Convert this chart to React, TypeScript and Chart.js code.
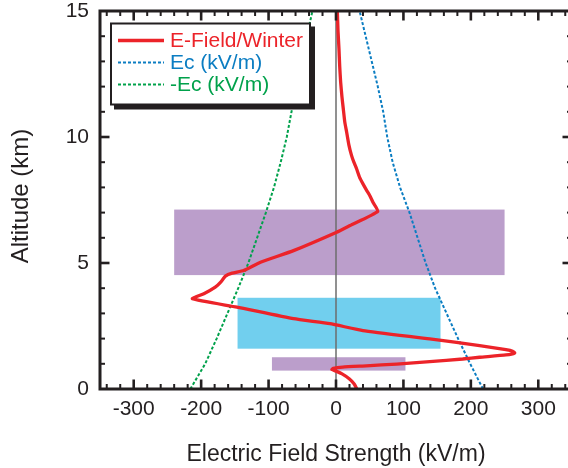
import React, { useEffect, useRef } from 'react';
import { Chart, registerables } from 'chart.js';

Chart.register(...registerables);

// ---- data ----
const efieldAltitude = [0, 0.2, 0.4, 0.6, 0.7, 0.77, 0.82, 0.87, 0.92, 0.99, 1.09, 1.19, 1.26, 1.35, 1.43, 1.5, 1.56, 1.72, 1.99, 2.32, 2.59, 2.79, 3.25, 3.58, 3.78, 4.04, 4.24, 4.48, 4.6, 4.7, 5.03, 5.49, 6.22, 6.49, 7.05, 7.4, 7.68, 7.9, 8.14, 8.4, 8.74, 9.0, 9.27, 9.7, 10.19, 10.6, 11.12, 11.6, 12.18, 12.8, 13.5, 14.2, 15];
const efieldValues = [31, 27, 20, 9, 1, -6, -4, 10, 45, 90, 139, 188, 213, 252, 265, 262, 252, 213, 139, 40, -9, -63, -147, -213, -196, -179, -171, -164, -154, -137, -112, -63, 1, 21, 62, 55, 50, 45, 40, 35, 30.5, 26.5, 23, 19, 15.8, 13, 10.8, 8.8, 6.9, 5.5, 4.4, 3, 2];

const ecAltitude = [0, 1, 2, 3, 4, 5, 6, 7, 8, 9, 10, 11, 12, 13, 14, 15];
const ecValues = [218, 199, 181, 164, 147, 133, 121, 109, 95, 84, 76, 70, 62, 53, 44, 35];
const negEcValues = [-216, -194, -177, -161, -145, -130, -117, -104, -92, -82, -73, -66, -58, -50, -43, -35];

const zeroLineAltitude = [0, 15];
const zeroLineValues = [0, 0];

const bandXMin = [-240, -146, -95];
const bandXMax = [250, 155, 103];
const bandAltMin = [4.52, 1.6, 0.73];
const bandAltMax = [7.12, 3.62, 1.26];

const xTickValues = [-300, -200, -100, 0, 100, 200, 300];
const yTickValues = [0, 5, 10, 15];
const seriesLabels = ['E-Field/Winter', 'Ec (kV/m)', '-Ec (kV/m)'];
const xTitle = 'Electric Field Strength (kV/m)';
const yTitle = 'Altitude (km)';

// ---- styles ----
const FONT = "'Liberation Sans', Arial, Helvetica, sans-serif";
const AXIS = '#231f20';
const RED = '#ec2329';
const BLUE = '#0b7dc2';
const GREEN = '#00a14b';
const PURPLE = '#bb9ecb';
const CYAN = '#71cfee';
const bandColors = [PURPLE, CYAN, PURPLE];

const toPoints = (xs: number[], ys: number[]) => xs.map((x, i) => ({ x, y: ys[i] }));

const bandsPlugin = {
  id: 'bands',
  beforeDatasetsDraw(chart: any) {
    const { ctx, scales } = chart;
    const sx = scales.x, sy = scales.y;
    ctx.save();
    for (let i = 0; i < bandXMin.length; i++) {
      const x0 = sx.getPixelForValue(bandXMin[i]);
      const x1 = sx.getPixelForValue(bandXMax[i]);
      const y0 = sy.getPixelForValue(bandAltMax[i]);
      const y1 = sy.getPixelForValue(bandAltMin[i]);
      ctx.fillStyle = bandColors[i];
      ctx.fillRect(x0, y0, x1 - x0, y1 - y0);
    }
    ctx.restore();
  },
};

const framePlugin = {
  id: 'frame',
  afterDatasetsDraw(chart: any) {
    const { ctx, chartArea: a, scales } = chart;
    const sx = scales.x, sy = scales.y;
    ctx.save();
    ctx.strokeStyle = AXIS;
    ctx.lineCap = 'butt';
    const tick = (x0: number, y0: number, x1: number, y1: number, w: number) => {
      ctx.lineWidth = w;
      ctx.beginPath();
      ctx.moveTo(x0, y0);
      ctx.lineTo(x1, y1);
      ctx.stroke();
    };
    for (let v = -340; v <= 340; v += 20) {
      const major = v % 100 === 0;
      const len = major ? 9.5 : 5;
      const w = major ? 2.6 : 2;
      const px = sx.getPixelForValue(v);
      tick(px, a.bottom, px, a.bottom - len, w);
      tick(px, a.top, px, a.top + len, w);
    }
    for (let v = 1; v < 15; v++) {
      const major = v % 5 === 0;
      const len = major ? 9.5 : 5;
      const w = major ? 2.6 : 2;
      const py = sy.getPixelForValue(v);
      tick(a.left, py, a.left + len, py, w);
      tick(a.right, py, a.right - len, py, w);
    }
    ctx.lineWidth = 3;
    ctx.beginPath();
    ctx.rect(a.left, a.top, a.right - a.left, a.bottom - a.top);
    ctx.stroke();

    // y-axis title
    ctx.save();
    ctx.translate(21, 196);
    ctx.rotate(-Math.PI / 2);
    ctx.fillStyle = AXIS;
    ctx.font = `24px ${FONT}`;
    ctx.textAlign = 'center';
    ctx.textBaseline = 'middle';
    ctx.fillText(yTitle, 0, 0);
    ctx.restore();
    ctx.restore();
  },
};

const legendPlugin = {
  id: 'customLegend',
  afterDraw(chart: any) {
    const { ctx } = chart;
    const bx = 111, by = 23.5, bw = 199, bh = 81;
    ctx.save();
    ctx.fillStyle = AXIS;
    ctx.fillRect(bx + 3, by + 3, bw + 2, bh + 2);
    ctx.fillStyle = '#ffffff';
    ctx.fillRect(bx, by, bw, bh);
    ctx.strokeStyle = AXIS;
    ctx.lineWidth = 2;
    ctx.strokeRect(bx, by, bw, bh);
    const rows = [40.5, 62.5, 84.5];
    chart.data.datasets.slice(0, 3).forEach((ds: any, i: number) => {
      const y = rows[i];
      ctx.strokeStyle = ds.borderColor;
      ctx.lineWidth = ds.borderWidth;
      ctx.setLineDash(ds.borderDash || []);
      ctx.beginPath();
      ctx.moveTo(118, y);
      ctx.lineTo(164, y);
      ctx.stroke();
      ctx.setLineDash([]);
      ctx.fillStyle = ds.borderColor;
      ctx.font = `21px ${FONT}`;
      ctx.textBaseline = 'middle';
      ctx.textAlign = 'left';
      ctx.fillText(ds.label, 170, y + 1);
    });
    ctx.restore();
  },
};

export default function App() {
  const canvasRef = useRef<HTMLCanvasElement | null>(null);

  useEffect(() => {
    if (!canvasRef.current) return;
    const chart = new Chart(canvasRef.current, {
      type: 'scatter',
      data: {
        datasets: [
          {
            label: seriesLabels[0],
            data: toPoints(efieldValues, efieldAltitude),
            showLine: true,
            borderColor: RED,
            borderWidth: 3.3,
            pointRadius: 0,
            tension: 0.15,
            borderJoinStyle: 'round',
            order: 1,
          },
          {
            label: seriesLabels[1],
            data: toPoints(ecValues, ecAltitude),
            showLine: true,
            borderColor: BLUE,
            borderWidth: 2,
            borderDash: [3, 2],
            pointRadius: 0,
            order: 2,
          },
          {
            label: seriesLabels[2],
            data: toPoints(negEcValues, ecAltitude),
            showLine: true,
            borderColor: GREEN,
            borderWidth: 2,
            borderDash: [3, 2],
            pointRadius: 0,
            order: 3,
          },
          {
            label: 'zero',
            data: toPoints(zeroLineValues, zeroLineAltitude),
            showLine: true,
            borderColor: '#6d6d6d',
            borderWidth: 1.5,
            pointRadius: 0,
            order: 4,
          },
        ],
      },
      options: {
        animation: false,
        responsive: false,
        devicePixelRatio: 1,
        layout: { padding: { left: 0, right: 4, top: 11, bottom: 0 } },
        plugins: { legend: { display: false }, tooltip: { enabled: false } },
        scales: {
          x: {
            type: 'linear',
            min: -350,
            max: 350,
            grid: { display: false, drawTicks: false },
            border: { display: false },
            afterBuildTicks: (scale: any) => {
              scale.ticks = xTickValues.map((value) => ({ value }));
            },
            afterFit: (scale: any) => {
              scale.height = 79;
              scale.paddingLeft = 0;
              scale.paddingRight = 0;
            },
            ticks: {
              color: AXIS,
              padding: 8,
              maxRotation: 0,
              font: { family: FONT, size: 21 },
            },
            title: {
              display: true,
              text: xTitle,
              color: AXIS,
              padding: { top: 0, bottom: 0 },
              font: { family: FONT, size: 23 },
            },
          },
          y: {
            type: 'linear',
            min: 0,
            max: 15,
            grid: { display: false, drawTicks: false },
            border: { display: false },
            afterBuildTicks: (scale: any) => {
              scale.ticks = yTickValues.map((value) => ({ value }));
            },
            afterFit: (scale: any) => {
              scale.width = 100;
              scale.paddingTop = 0;
              scale.paddingBottom = 0;
            },
            ticks: {
              color: AXIS,
              padding: 11,
              font: { family: FONT, size: 21 },
            },
            title: { display: false },
          },
        },
      },
      plugins: [bandsPlugin, framePlugin, legendPlugin],
    } as any);
    return () => chart.destroy();
  }, []);

  return (
    <div style={{ position: 'absolute', left: 0, top: 0, width: 568, height: 468, overflow: 'hidden', background: '#fff' }}>
      <canvas ref={canvasRef} width={576} height={468} style={{ width: 576, height: 468, display: 'block' }} />
    </div>
  );
}
